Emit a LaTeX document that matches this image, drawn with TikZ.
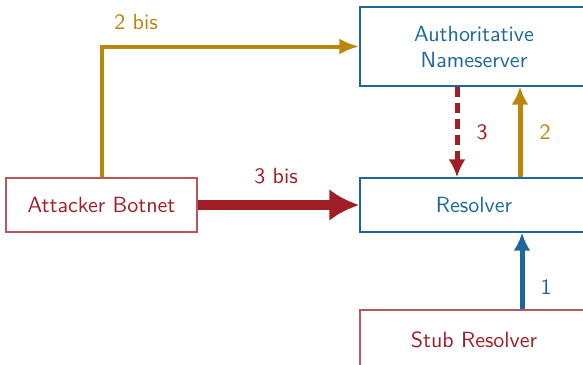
\documentclass[tikz,border=0pt]{standalone}
\usepackage{fontspec}
\newfontfamily\dnsfont{lmsans10-regular}[Extension=.otf]
\usetikzlibrary{arrows.meta,positioning}
\definecolor{dnsorange}{RGB}{186,135,10}
\definecolor{dnsred}{RGB}{160,30,38}
\definecolor{dnsblue}{RGB}{28,104,158}
\begin{document}
\begin{tikzpicture}[x=1pt,y=-1pt,
  every node/.style={font=\dnsfont\fontsize{22}{26}\selectfont},
  bluebox/.style={draw=dnsblue,line width=1.3pt,text=dnsblue,minimum width=228pt,align=center,inner sep=0pt},
  redbox/.style={draw=dnsred!75,line width=1.3pt,text=dnsred,minimum height=54pt,align=center,inner sep=0pt},
  lbl/.style={inner sep=0pt}]
\useasboundingbox (0,0) rectangle (583,364);
\node[bluebox,minimum height=79pt] (auth) at (474,46.5) {Authoritative\\Nameserver};
\node[bluebox,minimum height=54pt] (res) at (474,205) {Resolver};
\node[redbox,minimum width=191pt] (att) at (101.5,205) {Attacker Botnet};
\node[redbox,minimum width=228pt,minimum height=60pt] (stub) at (474,340) {Stub Resolver};
% 2 bis
\draw[dnsorange,line width=4pt,-{Latex[length=20pt,width=16pt]}] (att.north) |- (auth.west);
\node[lbl,text=dnsorange] (l2bis) at (136,22) {2 bis};
% 3 bis
\draw[dnsred,line width=10pt,-{Latex[length=30pt,width=32pt]}] (att.east) -- (res.west);
\node[lbl,text=dnsred] (l3bis) at (276,176) {3 bis};
% 3
\draw[dnsred,line width=5pt,dash pattern=on 10pt off 6pt,-{Latex[length=18pt,width=17pt]}] ([xshift=-17pt]auth.south) -- ([xshift=-17pt]res.north);
\node[lbl,text=dnsred] (l3) at (482,132) {3};
% 2
\draw[dnsorange,line width=5pt,-{Latex[length=18pt,width=17pt]}] ([xshift=46pt]res.north) -- ([xshift=46pt]auth.south);
\node[lbl,text=dnsorange] (l2) at (545,132) {2};
% 1
\draw[dnsblue,line width=5pt,-{Latex[length=18pt,width=17pt]}] ([xshift=48pt]stub.north) -- ([xshift=48pt]res.south);
\node[lbl,text=dnsblue] (l1) at (546,287) {1};
\end{tikzpicture}
\end{document}
